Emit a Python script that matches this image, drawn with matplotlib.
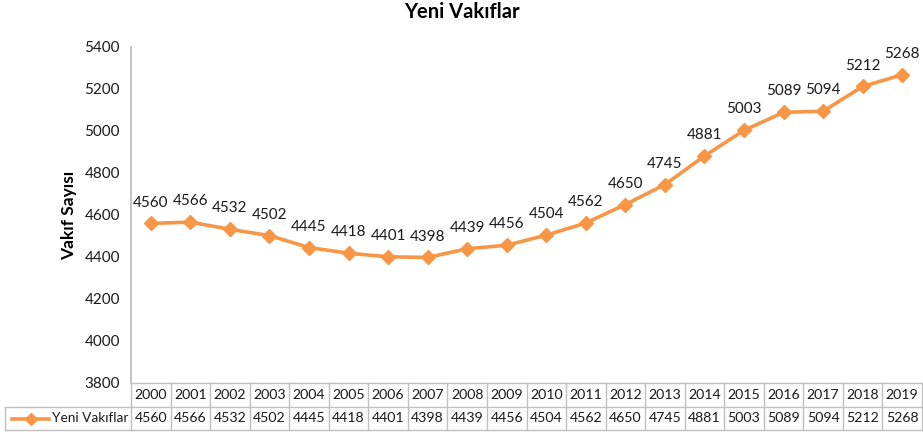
#!/usr/bin/env python3
import matplotlib
matplotlib.use('Agg')
import matplotlib.pyplot as plt
from matplotlib.lines import Line2D
plt.rcParams['font.family'] = ['Lato', 'DejaVu Sans']

years = [2000, 2001, 2002, 2003, 2004, 2005, 2006, 2007, 2008, 2009,
         2010, 2011, 2012, 2013, 2014, 2015, 2016, 2017, 2018, 2019]
counts = [4560, 4566, 4532, 4502, 4445, 4418, 4401, 4398, 4439, 4456,
          4504, 4562, 4650, 4745, 4881, 5003, 5089, 5094, 5212, 5268]
series_name = 'Yeni Vakıflar'
y_ticks = [3800, 4000, 4200, 4400, 4600, 4800, 5000, 5200, 5400]

orange = '#F79646'
grid_gray = '#BFBFBF'
W, H = 923, 432

fig = plt.figure(figsize=(W / 100, H / 100), dpi=100)
ax = fig.add_axes([131 / W, 1 - 383 / H, 791 / W, 336 / H])

x = list(range(len(years)))
ax.plot(x, counts, color=orange, lw=2.6, marker='D', ms=7.5, mec=orange, mfc=orange)
for xi, v in zip(x, counts):
    ax.annotate(str(v), (xi, v), xytext=(0, 10), textcoords='offset points',
                ha='center', va='bottom', fontsize=11, color='#1a1a1a')

ax.set_xlim(-0.5, len(years) - 0.5)
ax.set_ylim(3800, 5400)
ax.set_yticks(y_ticks)
ax.set_yticklabels([str(t) for t in y_ticks], fontsize=11, color='#1a1a1a')
ax.set_xticks([])
ax.tick_params(axis='y', length=0, pad=8)
for s in ['top', 'right', 'bottom']:
    ax.spines[s].set_visible(False)
ax.spines['left'].set_color(grid_gray)
ax.spines['left'].set_linewidth(1.3)
ax.set_ylabel('Vakıf Sayısı', fontsize=12.5, fontweight='bold', labelpad=5)

# data table below the axis
row1_top, row1_bot, row2_bot = 383, 407, 430
def fy(p):
    return 1 - p / H

pos = ax.get_position()
tr = ax.get_xaxis_transform()
ytop = (fy(row1_top) - pos.y0) / pos.height
ymid = (fy(row1_bot) - pos.y0) / pos.height
ybot = (fy(row2_bot) - pos.y0) / pos.height
for yy in [ytop, ymid, ybot]:
    ax.plot([-0.5, len(years) - 0.5], [yy, yy], transform=tr, color=grid_gray,
            lw=1, clip_on=False)
for i in range(len(years) + 1):
    ax.plot([i - 0.5, i - 0.5], [ytop, ybot], transform=tr, color=grid_gray,
            lw=1, clip_on=False)
for xi, yr, v in zip(x, years, counts):
    ax.text(xi, (ytop + ymid) / 2, str(yr), transform=tr, ha='center',
            va='center', fontsize=10.2, color='#1a1a1a')
    ax.text(xi, (ymid + ybot) / 2, str(v), transform=tr, ha='center',
            va='center', fontsize=10.2, color='#1a1a1a')

# legend cell
lx0, lx1 = 5 / W, 131 / W
for yy in [fy(row1_bot), fy(row2_bot)]:
    fig.add_artist(Line2D([lx0, lx1], [yy, yy], color=grid_gray, lw=1))
fig.add_artist(Line2D([lx0, lx0], [fy(row1_bot), fy(row2_bot)], color=grid_gray, lw=1))
ymc = (fy(row1_bot) + fy(row2_bot)) / 2
fig.add_artist(Line2D([12 / W, 49 / W], [ymc, ymc], color=orange, lw=2.6))
fig.add_artist(Line2D([30.5 / W], [ymc], color=orange, marker='D', ms=6, lw=0))
fig.text(52 / W, ymc, series_name, ha='left', va='center', fontsize=9.8, color='#1a1a1a')

fig.suptitle(series_name, x=0.5, y=1 - 12 / H, va='center', fontsize=14.5,
             fontweight='bold')

fig.savefig('out.png', dpi=100)
